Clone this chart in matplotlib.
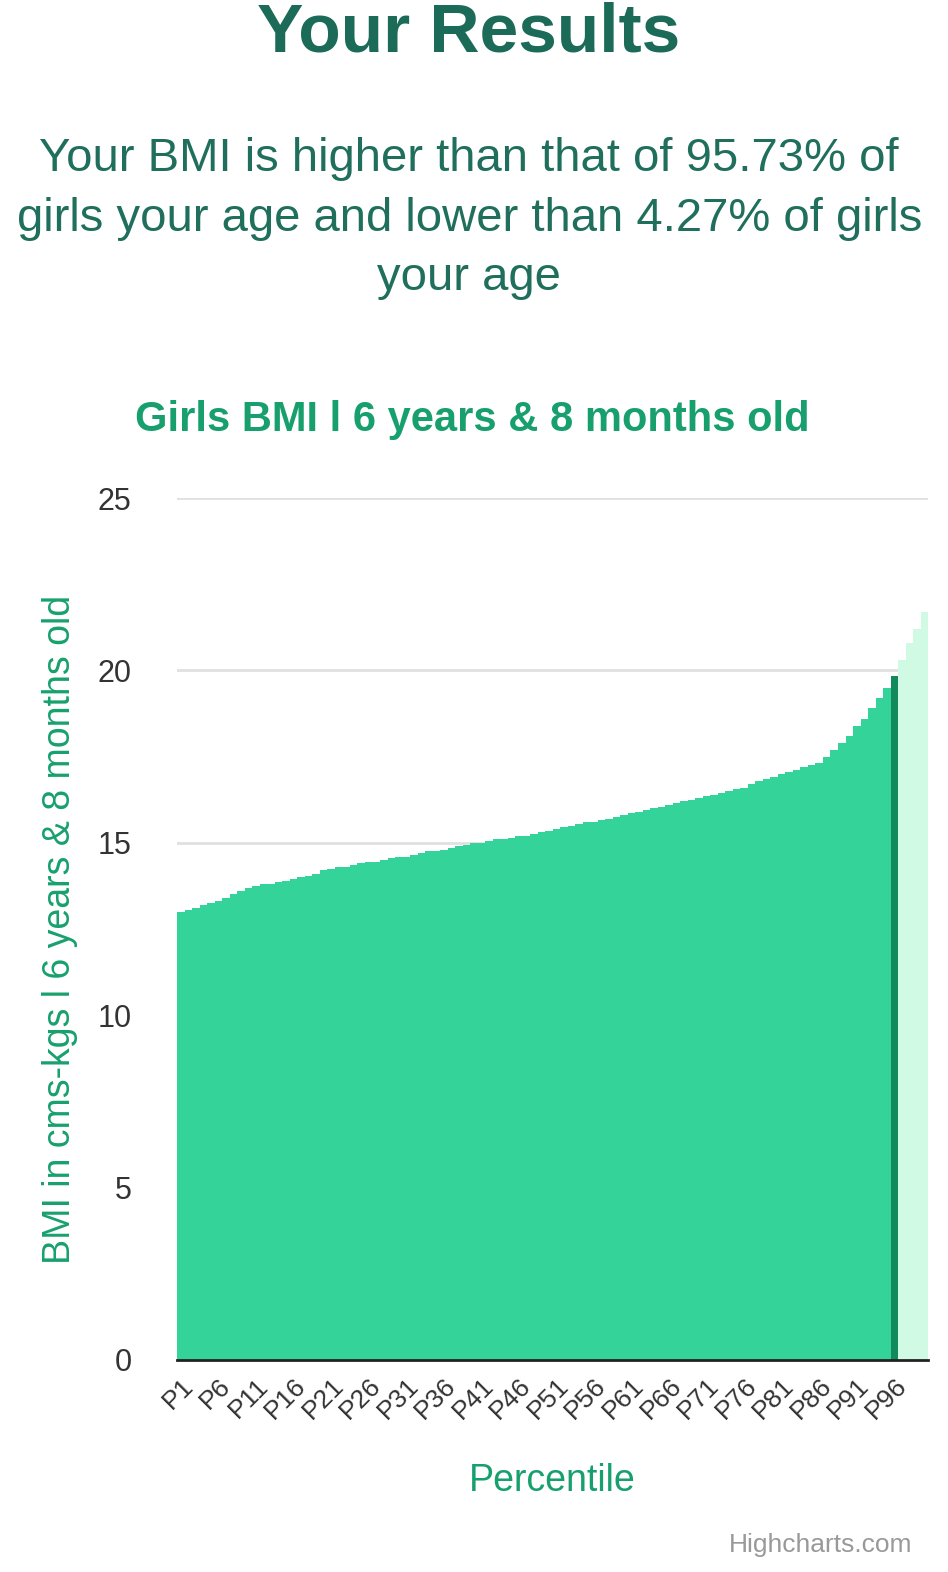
import matplotlib
matplotlib.use("Agg")
import matplotlib.pyplot as plt

plt.rcParams["font.family"] = "Liberation Sans"

percentiles = [f"P{i}" for i in range(1, 101)]
bmi = [13.0,13.05,13.1,13.2,13.25,13.3,13.4,13.5,13.6,13.7,
       13.75,13.8,13.8,13.85,13.9,13.95,14.0,14.05,14.1,14.2,
       14.25,14.3,14.3,14.35,14.4,14.45,14.45,14.5,14.55,14.6,
       14.6,14.65,14.7,14.75,14.75,14.8,14.85,14.9,14.95,15.0,
       15.0,15.05,15.1,15.1,15.15,15.2,15.2,15.25,15.3,15.35,
       15.4,15.45,15.5,15.55,15.6,15.6,15.65,15.7,15.75,15.8,
       15.85,15.9,15.95,16.0,16.05,16.1,16.15,16.2,16.25,16.3,
       16.35,16.4,16.45,16.5,16.55,16.6,16.7,16.8,16.85,16.9,
       17.0,17.05,17.1,17.2,17.25,17.3,17.5,17.7,17.9,18.1,
       18.4,18.6,18.9,19.2,19.5,19.85,20.3,20.8,21.2,21.7]
user_percentile = "P96"
yticks = [0, 5, 10, 15, 20, 25]

hi = percentiles.index(user_percentile)
colors = ["#34d399" if i < hi else ("#128a5c" if i == hi else "#d1fae5") for i in range(len(bmi))]

fig = plt.figure(figsize=(9.48, 15.72), dpi=100)
fig.text(0.494, 0.979, "Your Results", ha="center", va="center", fontsize=50, fontweight="bold", color="#1b6b58")
fig.text(0.495, 0.861, "Your BMI is higher than that of 95.73% of\ngirls your age and lower than 4.27% of girls\nyour age",
         ha="center", va="center", fontsize=34, color="#1f6f5c", linespacing=1.45)
fig.text(0.498, 0.733, "Girls BMI l 6 years & 8 months old", ha="center", va="center", fontsize=30,
         fontweight="bold", color="#17a06d")

ax = fig.add_axes([0.187, 0.1349, 0.792, 0.5483])
x = list(range(len(bmi)))
ax.bar(x, bmi, width=1.0, color=colors, zorder=2)
ax.set_xlim(-0.5, 99.5)
ax.set_ylim(0, 25)
ax.set_yticks(yticks)
ax.set_yticklabels([str(t) for t in yticks], fontsize=22, color="#333333")
ax.grid(axis="y", color="#e0e0e0", linewidth=2, zorder=0)
ax.set_xticks(x[::5])
ax.set_xticklabels(percentiles[::5], rotation=45, ha="right", rotation_mode="anchor", fontsize=19, color="#333333")
ax.tick_params(axis="y", length=0, pad=33)
ax.tick_params(axis="x", length=0, pad=10)
for s in ["top", "right", "left"]:
    ax.spines[s].set_visible(False)
ax.spines["bottom"].set_color("#222222")
ax.spines["bottom"].set_linewidth(2)
ax.spines["bottom"].set_zorder(3)
ax.set_ylabel("BMI in cms-kgs l 6 years & 8 months old", fontsize=27, color="#17a06d", labelpad=14)
ax.set_xlabel("Percentile", fontsize=27, color="#17a06d", labelpad=28)
fig.text(0.962, 0.017, "Highcharts.com", ha="right", va="center", fontsize=19, color="#999999")
fig.savefig("out.png", dpi=100)
